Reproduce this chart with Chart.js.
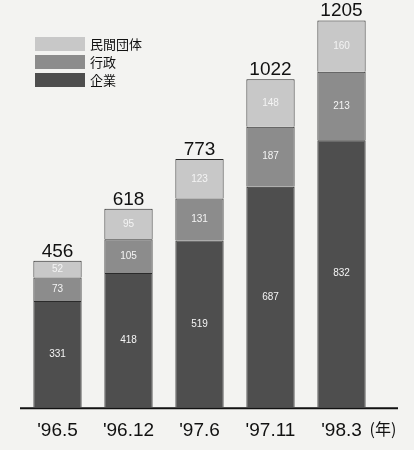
<!DOCTYPE html>
<html>
<head>
<meta charset="utf-8">
<script src="https://cdn.jsdelivr.net/npm/chart.js@4.4.0/dist/chart.umd.min.js"></script>
<style>
  html, body { margin: 0; padding: 0; background: #f3f3f1; }
  #wrap { width: 414px; height: 450px; }
</style>
</head>
<body>
<div id="wrap"><canvas id="chart" width="414" height="450"></canvas></div>
<script>
// データ
const periods = ["'96.5", "'96.12", "'97.6", "'97.11", "'98.3"];
const kigyo = [331, 418, 519, 687, 832];     // 企業
const gyosei = [73, 105, 131, 187, 213];     // 行政
const minkan = [52, 95, 123, 148, 160];      // 民間団体
const totals = [456, 618, 773, 1022, 1205];

const FONT = "'Liberation Sans Narrow', 'Liberation Sans', Arial, sans-serif";
const JP = "'Noto Sans CJK JP', sans-serif";

// ラベル・凡例・軸線を描くプラグイン
const extras = {
  id: 'extras',
  afterDatasetsDraw(chart) {
    const ctx = chart.ctx;
    const area = chart.chartArea;
    ctx.save();

    // 各セグメントの数値
    ctx.textAlign = 'center';
    ctx.textBaseline = 'middle';
    ctx.font = '10px ' + FONT;
    ctx.fillStyle = '#f4f4f4';
    chart.data.datasets.forEach((ds, i) => {
      chart.getDatasetMeta(i).data.forEach((bar, j) => {
        const yMid = (bar.y + bar.base) / 2;
        ctx.fillText(ds.data[j], bar.x, yMid);
      });
    });

    // 合計
    const top = chart.getDatasetMeta(2).data;
    ctx.font = '19px ' + FONT;
    ctx.fillStyle = '#111';
    ctx.textBaseline = 'bottom';
    top.forEach((bar, j) => {
      ctx.fillText(totals[j], bar.x, bar.y);
    });

    // 軸線
    ctx.strokeStyle = '#111';
    ctx.lineWidth = 2;
    ctx.beginPath();
    ctx.moveTo(20, area.bottom + 1);
    ctx.lineTo(398, area.bottom + 1);
    ctx.stroke();

    // (年)
    const xs = chart.scales.x;
    ctx.font = '16px ' + JP;
    ctx.textAlign = 'left';
    ctx.textBaseline = 'middle';
    ctx.fillText('(年)', xs.getPixelForValue(4) + 28, 429);

    // 凡例
    const items = [2, 1, 0];
    items.forEach((di, k) => {
      const ds = chart.data.datasets[di];
      const y = 37 + k * 18;
      ctx.fillStyle = ds.backgroundColor;
      ctx.fillRect(35, y, 50, 14);
      ctx.fillStyle = '#111';
      ctx.font = '13px ' + JP;
      ctx.textAlign = 'left';
      ctx.fillText(ds.label, 90, y + 7);
    });
    ctx.restore();
  }
};

new Chart(document.getElementById('chart').getContext('2d'), {
  type: 'bar',
  data: {
    labels: periods,
    datasets: [
      { label: '企業', data: kigyo, backgroundColor: '#4e4e4e', borderColor: '#2a2a2a', borderWidth: 1 },
      { label: '行政', data: gyosei, backgroundColor: '#8c8c8c', borderColor: '#2a2a2a', borderWidth: 1 },
      { label: '民間団体', data: minkan, backgroundColor: '#c8c8c8', borderColor: '#2a2a2a', borderWidth: 1 }
    ]
  },
  options: {
    responsive: false,
    animation: false,
    layout: { padding: { left: 22, right: 37, top: 6, bottom: 4 } },
    datasets: { bar: { barPercentage: 0.68, categoryPercentage: 1.0 } },
    plugins: { legend: { display: false }, tooltip: { enabled: false } },
    scales: {
      x: {
        stacked: true,
        grid: { display: false },
        border: { display: false },
        ticks: { color: '#111', font: { family: FONT, size: 19 }, padding: 4 }
      },
      y: { stacked: true, display: false, min: 0, max: 1250 }
    }
  },
  plugins: [extras]
});
</script>
</body>
</html>
